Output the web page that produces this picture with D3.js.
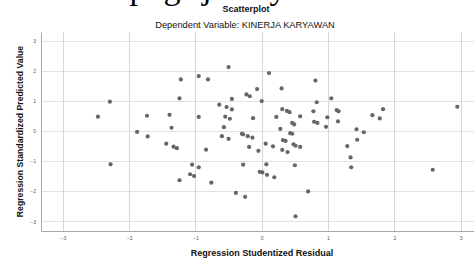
<!DOCTYPE html>
<html>
<head>
<meta charset="utf-8">
<script src="https://cdn.jsdelivr.net/npm/d3@7"></script>
<style>
  html, body { margin: 0; padding: 0; background: #fff; }
  svg { display: block; }
</style>
</head>
<body>
<svg id="chart" width="474" height="262"></svg>
<script>
// values
const residuals = [
  -2.47, -2.29, -1.73, -1.88, -1.72, -2.28, -0.50, 0.11, -1.22, -0.95,
  -0.81, 0.30, -0.07, -0.23, -0.18, -1.24, -0.45, 0.00, -0.64, -0.53,
  -0.45, 0.31, 0.38, 0.42, -1.39, -0.95, -0.55, -0.48, -0.13, 0.22,
  0.58, 0.46, 0.49, -0.57, -1.36, 0.28, 0.43, 0.46, -0.30, -0.28,
  -0.21, -0.14, -0.60, -0.50, 0.32, 0.36, -1.44, -1.33, -1.28, 0.06,
  0.17, 0.48, 0.51, 0.58, -0.19, -0.84, -0.05, 0.31, 0.39, -1.05,
  -0.95, -1.08, -1.02, -1.24, -0.76, -0.28, 0.07, -0.03, 0.01, 0.08,
  0.19, 0.50, -0.39, -0.25, 0.70, 0.51, 0.81, 1.05, 0.83, 0.78,
  1.13, 1.16, 1.83, 1.67, 1.78, 0.79, 0.84, 0.99, 1.15, 0.97,
  1.43, 1.54, 1.44, 1.29, 1.34, 2.95, 1.35, 2.58
];
const predicted = [
  0.49, 0.99, 0.52, -0.02, -0.17, -1.10, 2.14, 1.94, 1.73, 1.84,
  1.73, 1.43, 1.41, 1.23, 1.17, 1.10, 1.08, 1.01, 0.89, 0.81,
  0.73, 0.74, 0.68, 0.64, 0.55, 0.48, 0.49, 0.42, 0.44, 0.48,
  0.50, 0.28, 0.23, 0.14, 0.12, 0.08, -0.06, -0.08, -0.08, -0.10,
  -0.16, -0.21, -0.16, -0.25, -0.29, -0.32, -0.41, -0.51, -0.56, -0.41,
  -0.50, -0.43, -0.48, -0.52, -0.52, -0.61, -0.65, -0.62, -0.69, -1.11,
  -1.20, -1.43, -1.49, -1.63, -1.71, -1.11, -1.10, -1.35, -1.37, -1.45,
  -1.53, -1.13, -2.05, -2.18, -2.00, -2.83, 1.69, 1.10, 0.97, 0.67,
  0.71, 0.67, 0.74, 0.54, 0.43, 0.32, 0.28, 0.47, 0.33, 0.15,
  0.07, -0.03, -0.28, -0.49, -0.87, 0.82, -1.20, -1.28
];
const xTicks = [-3, -2, -1, 0, 1, 2, 3];
const yTicks = [-3, -2, -1, 0, 1, 2, 3];

const svg = d3.select('#chart');

// plot area bounds
const plotLeft = 41;
const plotRight = 474;
const plotTop = 32;
const plotBottom = 231;

const x = d3.scaleLinear().domain([-3.329, 3.202]).range([plotLeft, plotRight]);
const y = d3.scaleLinear().domain([-3.32, 3.31]).range([plotBottom, plotTop]);

const sans = '"Liberation Sans", Arial, sans-serif';

// descenders of the document line cut off above the chart
[['p', 138], ['g', 172], ['j', 207], ['y', 278]].forEach(([ch, cx]) => {
  svg.append('text')
    .attr('x', cx)
    .attr('y', -1.5)
    .attr('text-anchor', 'middle')
    .style('font-family', '"Liberation Serif", serif')
    .style('font-size', '34px')
    .attr('fill', '#000')
    .text(ch);
});

// titles
svg.append('text')
  .attr('x', 246)
  .attr('y', 11.5)
  .attr('text-anchor', 'middle')
  .style('font-family', sans)
  .style('font-size', '9px')
  .style('font-weight', 'bold')
  .attr('fill', '#111')
  .text('Scatterplot');

svg.append('text')
  .attr('x', 245)
  .attr('y', 28)
  .attr('text-anchor', 'middle')
  .style('font-family', sans)
  .style('font-size', '9.3px')
  .attr('fill', '#111')
  .text('Dependent Variable: KINERJA KARYAWAN');

// grid lines
svg.append('g')
  .selectAll('line')
  .data(yTicks)
  .join('line')
  .attr('x1', plotLeft)
  .attr('x2', plotRight)
  .attr('y1', d => Math.round(y(d)) + 0.5)
  .attr('y2', d => Math.round(y(d)) + 0.5)
  .attr('stroke', '#e2e2e2');

svg.append('g')
  .selectAll('line')
  .data(xTicks)
  .join('line')
  .attr('x1', d => Math.round(x(d)) + 0.5)
  .attr('x2', d => Math.round(x(d)) + 0.5)
  .attr('y1', plotTop)
  .attr('y2', plotBottom)
  .attr('stroke', '#d6d6d6');

// axes
const fmt = d3.format('d');
const xAxis = svg.append('g')
  .attr('transform', `translate(0,${plotBottom})`)
  .call(d3.axisBottom(x).tickValues(xTicks).tickFormat(fmt).tickSize(0).tickPadding(5));
const yAxis = svg.append('g')
  .attr('transform', `translate(${plotLeft},0)`)
  .call(d3.axisLeft(y).tickValues(yTicks).tickFormat(fmt).tickSize(0).tickPadding(5));

[xAxis, yAxis].forEach(a => {
  a.select('.domain').attr('stroke', '#a8a8a8');
  a.selectAll('text')
    .style('font-family', sans)
    .style('font-size', '5px')
    .attr('fill', '#555');
});

// points
svg.append('g')
  .selectAll('circle')
  .data(residuals.map((r, i) => ({r: r, p: predicted[i]})))
  .join('circle')
  .attr('cx', d => x(d.r))
  .attr('cy', d => y(d.p))
  .attr('r', 2.1)
  .attr('fill', '#666');

// axis titles
svg.append('text')
  .attr('x', 262)
  .attr('y', 256)
  .attr('text-anchor', 'middle')
  .style('font-family', sans)
  .style('font-size', '9px')
  .style('font-weight', 'bold')
  .attr('fill', '#111')
  .text('Regression Studentized Residual');

svg.append('text')
  .attr('transform', 'translate(23,131.5) rotate(-90)')
  .attr('text-anchor', 'middle')
  .style('font-family', sans)
  .style('font-size', '8.7px')
  .style('font-weight', 'bold')
  .attr('fill', '#111')
  .text('Regression Standardized Predicted Value');
</script>
</body>
</html>
